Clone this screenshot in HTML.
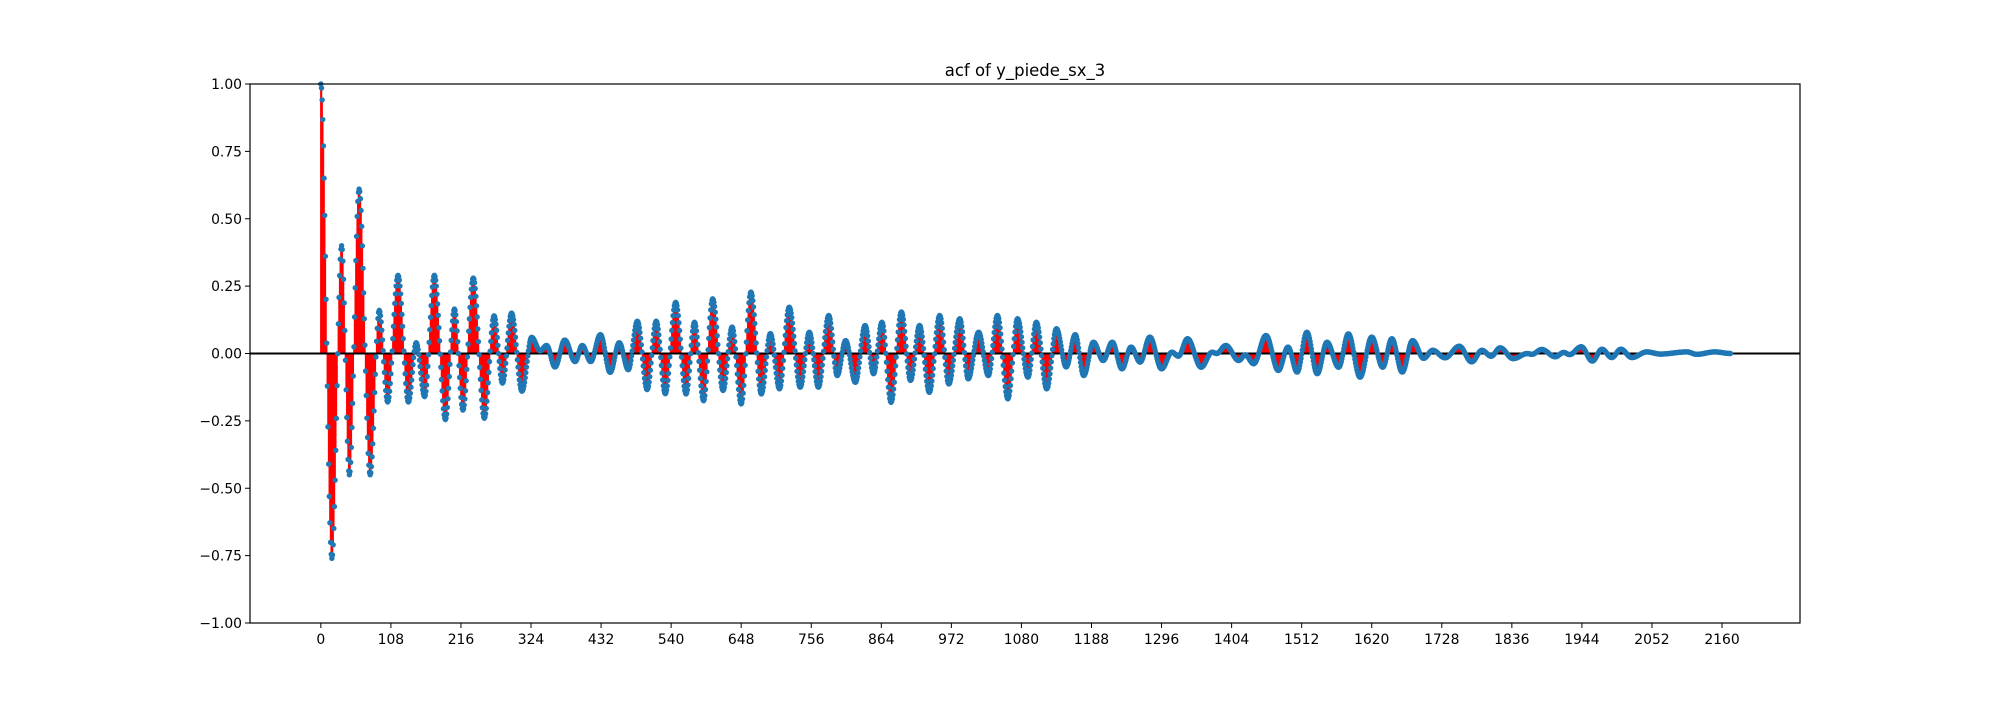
<!DOCTYPE html>
<html><head><meta charset="utf-8"><style>
html,body{margin:0;padding:0;background:#fff;}
svg text{font-family:"DejaVu Sans","Liberation Sans",sans-serif;}
</style></head><body>
<svg id="chart" width="2000" height="700" viewBox="0 0 2000 700" xmlns="http://www.w3.org/2000/svg">
<rect x="0" y="0" width="2000" height="700" fill="#fff"/>
<text x="1025" y="76" text-anchor="middle" font-size="16.5" fill="#000">acf of y_piede_sx_3</text>
<g id="stems"></g>
<g id="zero"></g>
<g id="markers"></g>
<g id="axes"></g>
</svg>
<script>
// Extrema (lag, acf value); values between are drawn from these
const extremaLags = [0,17,32,44,59,76,90,103,119,135,147,160,175,192,206,219,235,252,267,280,294,310,325,338,348,361,376,392,403,416,431,446,460,474,488,503,517,531,547,563,576,590,604,620,634,648,663,679,693,707,722,739,753,767,783,796,809,824,839,852,865,879,895,909,923,938,954,968,985,998,1014,1029,1043,1059,1074,1090,1103,1119,1134,1149,1163,1176,1191,1206,1220,1235,1249,1263,1278,1296,1312,1322,1336,1357,1374,1381,1395,1415,1425,1438,1457,1476,1491,1505,1520,1536,1551,1569,1584,1602,1620,1637,1651,1667,1683,1700,1714,1733,1755,1774,1790,1804,1818,1838,1860,1867,1882,1903,1916,1925,1943,1960,1975,1990,2004,2021,2044,2065,2106,2121,2149,2173];
const extremaValues = [1.0,-0.76,0.40,-0.45,0.61,-0.45,0.16,-0.18,0.29,-0.18,0.04,-0.16,0.29,-0.245,0.165,-0.21,0.28,-0.24,0.14,-0.11,0.15,-0.14,0.06,0.01,0.03,-0.05,0.05,-0.03,0.03,-0.03,0.07,-0.07,0.04,-0.06,0.12,-0.134,0.12,-0.149,0.19,-0.15,0.116,-0.175,0.203,-0.137,0.098,-0.187,0.228,-0.15,0.074,-0.131,0.172,-0.125,0.079,-0.125,0.141,-0.082,0.048,-0.107,0.104,-0.075,0.116,-0.181,0.154,-0.1,0.104,-0.144,0.141,-0.113,0.129,-0.094,0.079,-0.082,0.141,-0.168,0.129,-0.088,0.116,-0.131,0.092,-0.05,0.07,-0.082,0.042,-0.026,0.042,-0.057,0.024,-0.032,0.061,-0.057,0.005,-0.01,0.055,-0.051,0.005,0.0,0.03,-0.026,-0.005,-0.038,0.067,-0.063,0.024,-0.069,0.079,-0.075,0.042,-0.051,0.073,-0.088,0.061,-0.051,0.055,-0.069,0.048,-0.018,0.012,-0.016,0.027,-0.031,0.012,-0.01,0.021,-0.019,0.0,-0.003,0.015,-0.012,0.004,-0.004,0.025,-0.028,0.016,-0.015,0.016,-0.015,0.006,-0.002,0.006,-0.003,0.006,0.0];
const xTickLabels = ["0","108","216","324","432","540","648","756","864","972","1080","1188","1296","1404","1512","1620","1728","1836","1944","2052","2160"];
const yTickLabels = ["\u22121.00","\u22120.75","\u22120.50","\u22120.25","0.00","0.25","0.50","0.75","1.00"];

const NS="http://www.w3.org/2000/svg";
const L=250,R=1800,T=84,B=623;
const xMin=-109.2,xMax=2280.2;
function xs(v){return L+(v-xMin)/(xMax-xMin)*(R-L);}
function ys(v){return B-(v+1)/2*(B-T);}
function mk(tag,attrs,parent){const e=document.createElementNS(NS,tag);for(const k in attrs)e.setAttribute(k,attrs[k]);parent.appendChild(e);return e;}

function acfAt(l){
  for(let i=0;i<extremaLags.length-1;i++){
    const a=extremaLags[i],b=extremaLags[i+1];
    if(l>=a&&l<=b){const t=(l-a)/(b-a);const w=(1-Math.cos(Math.PI*t))/2;return extremaValues[i]+(extremaValues[i+1]-extremaValues[i])*w;}
  }
  return extremaValues[extremaValues.length-1];
}
const lastLag=extremaLags[extremaLags.length-1];
const stems=document.getElementById('stems');
const markers=document.getElementById('markers');
let d="";
const y0=ys(0);
const pts=[];
for(let l=0;l<=lastLag;l++){
  const v=acfAt(l);
  const x=xs(l).toFixed(2), y=ys(v).toFixed(2);
  d+="M"+x+" "+y0.toFixed(2)+"V"+y;
  pts.push([x,y]);
}
const sp=mk('path',{d:d,stroke:'#ff0000','stroke-width':1.5,fill:'none'},stems);


const zl=mk('line',{x1:L,x2:R,y1:y0,y2:y0,stroke:'#000','stroke-width':2},document.getElementById('zero'));


for(const p of pts){
  const c=mk('circle',{cx:p[0],cy:p[1],r:2.7,fill:'#1f77b4'},markers);
  
  
}
const axes=document.getElementById('axes');
const frame=mk('rect',{x:L,y:T,width:R-L,height:B-T,fill:'none',stroke:'#000','stroke-width':1.2},axes);


xTickLabels.forEach(s=>{
  const v=parseFloat(s);const x=xs(v);
  const tk=mk('line',{x1:x,x2:x,y1:B,y2:B+5,stroke:'#000','stroke-width':1},axes);
  
  
  const t=mk('text',{x:x,y:B+21,'text-anchor':'middle','font-size':13.9,fill:'#000'},axes);
  t.textContent=s;
  
  
});
yTickLabels.forEach(s=>{
  const v=parseFloat(s.replace('\u2212','-'));const y=ys(v);
  const tk=mk('line',{x1:L-5,x2:L,y1:y,y2:y,stroke:'#000','stroke-width':1},axes);
  
  
  const t=mk('text',{x:L-8,y:y+5,'text-anchor':'end','font-size':13.9,fill:'#000'},axes);
  t.textContent=s;
  
  
});
</script>
</body></html>
